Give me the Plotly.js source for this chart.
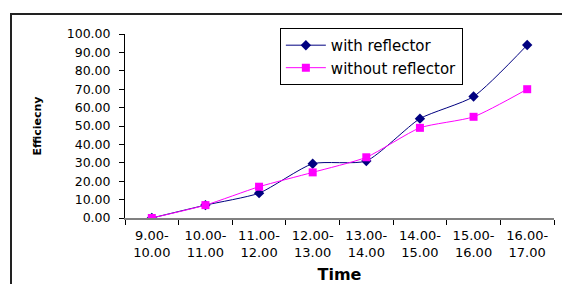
<!DOCTYPE html>
<html>
<head>
<meta charset="utf-8">
<script src="https://cdn.plot.ly/plotly-3.0.1.min.js"></script>
<style>
html,body{margin:0;padding:0;background:#fff;}
#wrap{position:relative;width:562px;height:284px;}
#chart{width:562px;height:284px;}
#frame{position:absolute;left:10px;top:13px;width:560px;height:280px;border-left:2px solid #222;border-top:2px solid #222;pointer-events:none;}
</style>
</head>
<body>
<div id="wrap"><div id="chart"></div><div id="frame"></div></div>
<script>
const categories = ["9.00-<br>10.00","10.00-<br>11.00","11.00-<br>12.00","12.00-<br>13.00","13.00-<br>14.00","14.00-<br>15.00","15.00-<br>16.00","16.00-<br>17.00"];
const withReflector = [0, 7, 13.5, 29.5, 31, 54, 66, 94];
const withoutReflector = [0, 7, 17, 24.8, 33, 49, 55, 70];
const yTicks = [0,10,20,30,40,50,60,70,80,90,100];
const yTickLabels = yTicks.map(v => v.toFixed(2));

const traces = [
  {x: categories, y: withReflector, name: "with reflector", type: "scatter", mode: "lines+markers",
   line: {color: "#000080", width: 1, shape: "spline", smoothing: 0.6},
   marker: {symbol: "diamond", size: 8, color: "#000080"}},
  {x: categories, y: withoutReflector, name: "without reflector", type: "scatter", mode: "lines+markers",
   line: {color: "#FF00FF", width: 1, shape: "spline", smoothing: 0.6},
   marker: {symbol: "square", size: 8, color: "#FF00FF"}}
];

const layout = {
  width: 562, height: 284,
  margin: {l: 125, r: 8, t: 34, b: 66},
  paper_bgcolor: "#fff", plot_bgcolor: "#fff",
  font: {family: "DejaVu Sans, sans-serif", size: 12.5, color: "#000"},
  showlegend: true,
  legend: {x: 0.361, y: 1.033, xanchor: "left", yanchor: "top", bordercolor: "#000", borderwidth: 1,
           bgcolor: "#fff", font: {size: 15}, tracegroupgap: 0, itemwidth: 40},
  xaxis: {type: "category", showgrid: false, zeroline: false, showline: true, linecolor: "#808080", linewidth: 2,
          ticks: "outside", tickson: "boundaries", ticklen: 5, tickcolor: "#000", tickwidth: 1,
          range: [-0.5, 7.5], tickfont: {size: 13}, ticklabelstandoff: 4,
          title: {text: "<b>Time</b>", font: {size: 16}, standoff: 10}},
  yaxis: {range: [0, 100], tickvals: yTicks, ticktext: yTickLabels, showgrid: false, zeroline: false,
          showline: true, linecolor: "#000", linewidth: 1, ticks: "outside", ticklen: 5, tickcolor: "#000",
          tickfont: {size: 12.5}, ticklabelstandoff: 6,
          title: {text: "<b>Efficiecny</b>", font: {size: 11}, standoff: 22}}
};

Plotly.newPlot("chart", traces, layout, {staticPlot: true, displayModeBar: false});
</script>
</body>
</html>
